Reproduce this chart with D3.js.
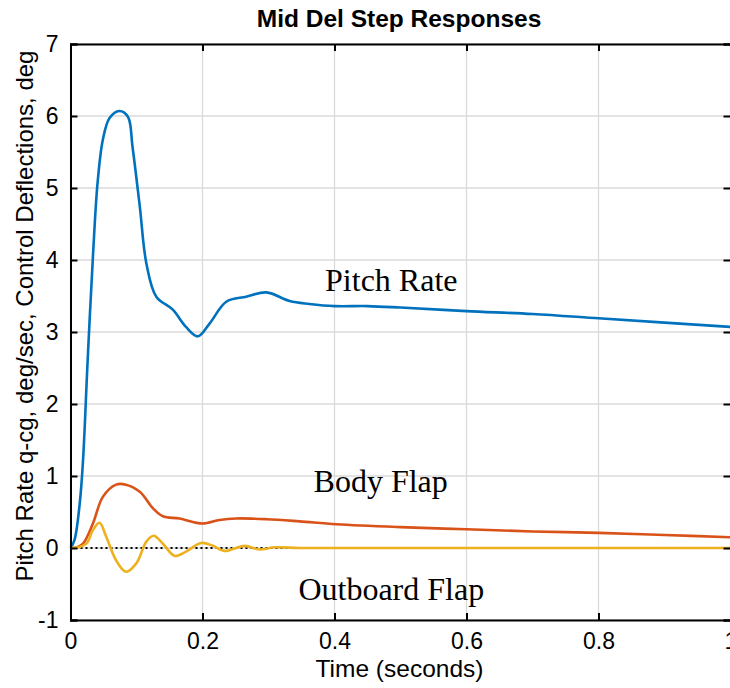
<!DOCTYPE html>
<html>
<head>
<meta charset="utf-8">
<script src="https://cdn.jsdelivr.net/npm/d3@7"></script>
<style>
  body { margin: 0; background: #fff; }
  text { font-family: "Liberation Sans", Arial, sans-serif; }
</style>
</head>
<body>
<div class="container"></div>
<script>
// values
var pitchT = [0, 0.006, 0.014, 0.019, 0.026, 0.034, 0.041, 0.049, 0.059, 0.074, 0.087, 0.094, 0.105, 0.115, 0.130, 0.155, 0.175, 0.193, 0.211, 0.236, 0.266, 0.297, 0.332, 0.362, 0.40, 0.45, 0.5, 0.6, 0.7, 0.8, 0.9, 1.0];
var pitchV = [0, 0.11, 0.62, 1.22, 2.61, 4.05, 5.07, 5.67, 5.97, 6.07, 5.99, 5.57, 4.74, 3.95, 3.49, 3.31, 3.07, 2.94, 3.12, 3.42, 3.49, 3.55, 3.43, 3.39, 3.36, 3.36, 3.34, 3.29, 3.25, 3.19, 3.13, 3.07];

var bodyT = [0, 0.01, 0.019, 0.034, 0.049, 0.069, 0.084, 0.105, 0.125, 0.14, 0.165, 0.2, 0.226, 0.251, 0.297, 0.347, 0.403, 0.5, 0.6, 0.7, 0.8, 0.9, 1.0];
var bodyV = [0, 0.01, 0.06, 0.34, 0.71, 0.88, 0.88, 0.78, 0.55, 0.44, 0.41, 0.34, 0.39, 0.41, 0.40, 0.37, 0.33, 0.29, 0.26, 0.23, 0.21, 0.18, 0.15];

var outT = [0, 0.012, 0.024, 0.034, 0.044, 0.054, 0.069, 0.084, 0.1, 0.115, 0.126, 0.14, 0.158, 0.175, 0.198, 0.216, 0.233, 0.264, 0.286, 0.31, 0.35, 0.4, 0.5, 0.6, 0.8, 1.0];
var outV = [0, 0.01, 0.06, 0.25, 0.35, 0.16, -0.17, -0.33, -0.21, 0.09, 0.17, 0.06, -0.11, -0.05, 0.07, 0.03, -0.04, 0.03, -0.02, 0.01, 0, 0, 0, 0, 0, 0];

var xTicks = [0, 0.2, 0.4, 0.6, 0.8, 1];
var yTicks = [-1, 0, 1, 2, 3, 4, 5, 6, 7];

// label text and where it sits (data coords, baseline)
var labels = [
  {name: "Pitch Rate", t: 0.486, v: 3.57},
  {name: "Body Flap", t: 0.47, v: 0.78},
  {name: "Outboard Flap", t: 0.486, v: -0.72}
];

var series = [
  {t: pitchT, v: pitchV, color: "#0072BD"},
  {t: bodyT, v: bodyV, color: "#D95319"},
  {t: outT, v: outV, color: "#EDB120"}
];

// dimensions
var W = 730, H = 688;
var margin = {top: 44, right: 0, bottom: 68, left: 70.5},
    width = 730.5 - margin.left,
    height = H - margin.top - margin.bottom;

var svg = d3.select(".container").append("svg")
    .attr("width", W)
    .attr("height", H);

var g = svg.append("g")
    .attr("transform", "translate(" + margin.left + "," + margin.top + ")");

var x = d3.scaleLinear().domain([0, 1]).range([0, width]);
var y = d3.scaleLinear().domain([-1, 7]).range([height, 0]);

// grid
g.selectAll(".vgrid").data(xTicks).enter().append("line")
  .attr("x1", function(d) { return x(d); })
  .attr("x2", function(d) { return x(d); })
  .attr("y1", 0).attr("y2", height)
  .attr("stroke", "#dadada").attr("stroke-width", 1.3);
g.selectAll(".hgrid").data(yTicks).enter().append("line")
  .attr("y1", function(d) { return y(d); })
  .attr("y2", function(d) { return y(d); })
  .attr("x1", 0).attr("x2", width)
  .attr("stroke", "#dadada").attr("stroke-width", 1.3);

// zero reference line (dotted)
g.append("line")
  .attr("x1", x(0)).attr("x2", x(1))
  .attr("y1", y(0)).attr("y2", y(0))
  .attr("stroke", "#000").attr("stroke-width", 2)
  .attr("stroke-dasharray", "2,3");

// curves
var line = d3.line()
  .x(function(d) { return x(d[0]); })
  .y(function(d) { return y(d[1]); })
  .curve(d3.curveCatmullRom.alpha(0.5));

series.forEach(function(s) {
  g.append("path")
    .datum(d3.zip(s.t, s.v))
    .attr("d", line)
    .attr("fill", "none")
    .attr("stroke", s.color)
    .attr("stroke-width", 2.6)
    .attr("stroke-linejoin", "round");
});

// axes: ticks inside on all sides (box on)
var tickLen = 7;
var axBottom = d3.axisBottom(x).tickValues(xTicks).tickSize(-tickLen).tickPadding(13)
  .tickFormat(function(d) { return d; });
var axTop = d3.axisTop(x).tickValues(xTicks).tickSize(-tickLen).tickFormat("");
var axLeft = d3.axisLeft(y).tickValues(yTicks).tickSize(-tickLen).tickPadding(12)
  .tickFormat(function(d) { return d; });
var axRight = d3.axisRight(y).tickValues(yTicks).tickSize(-tickLen).tickFormat("");

function styleAxis(sel) {
  sel.select(".domain").attr("stroke", "#000").attr("stroke-width", 2);
  sel.selectAll(".tick line").attr("stroke", "#000").attr("stroke-width", 2);
  sel.selectAll("text").attr("fill", "#000")
    .style("font-family", "'Liberation Sans', Arial, sans-serif")
    .style("font-size", "23px");
}

g.append("g").attr("transform", "translate(0," + height + ")").call(axBottom).call(styleAxis);
g.append("g").call(axTop).call(styleAxis);
g.append("g").call(axLeft).call(styleAxis);
g.append("g").attr("transform", "translate(" + width + ",0)").call(axRight).call(styleAxis);

// in-plot labels
g.selectAll(".lbl").data(labels).enter().append("text")
  .attr("x", function(d) { return x(d.t); })
  .attr("y", function(d) { return y(d.v); })
  .attr("text-anchor", "middle")
  .style("font-family", "'Liberation Serif', 'Times New Roman', serif")
  .style("font-size", "32px")
  .text(function(d) { return d.name; });

// title
svg.append("text")
  .attr("x", 399)
  .attr("y", 27)
  .attr("text-anchor", "middle")
  .style("font-weight", "bold")
  .style("font-size", "24.5px")
  .text("Mid Del Step Responses");

// axis labels
svg.append("text")
  .attr("x", 399.5)
  .attr("y", 677)
  .attr("text-anchor", "middle")
  .style("font-size", "24.5px")
  .text("Time (seconds)");

svg.append("text")
  .attr("transform", "translate(33,316) rotate(-90)")
  .attr("text-anchor", "middle")
  .style("font-size", "24px")
  .text("Pitch Rate q-cg, deg/sec, Control Deflections, deg");
</script>
</body>
</html>
